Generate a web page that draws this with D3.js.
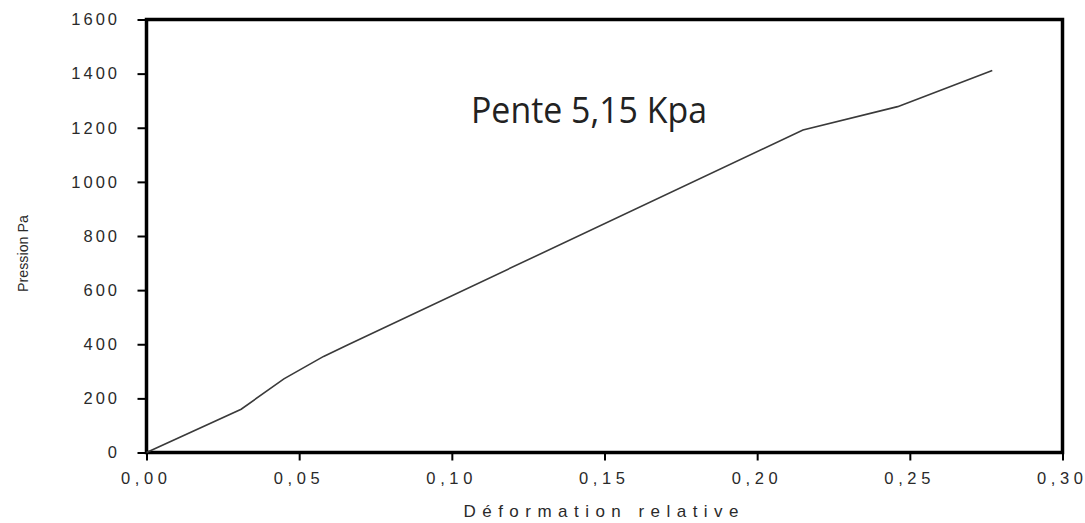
<!DOCTYPE html>
<html>
<head>
<meta charset="utf-8">
<script src="https://cdn.jsdelivr.net/npm/d3@7"></script>
<style>
  html, body { margin: 0; padding: 0; background: #fff; }
  svg { display: block; }
</style>
</head>
<body>
<svg id="chart" width="1085" height="523"></svg>
<script>
// Data
const strain   = [0, 0.031, 0.045, 0.058, 0.066, 0.215, 0.246, 0.277];
const pressure = [0, 160, 272, 355, 398, 1192, 1278, 1412];
const xTicks = [0, 0.05, 0.10, 0.15, 0.20, 0.25, 0.30];
const yTicks = [0, 200, 400, 600, 800, 1000, 1200, 1400, 1600];
const xTitle = "Déformation relative";
const yTitle = "Pression Pa";
const note = "Pente 5,15 Kpa";

const W = 1085, H = 523;
const m = { left: 146.5, right: 22.5, top: 19.5, bottom: 70.5 };
const svg = d3.select("#chart");

const x = d3.scaleLinear().domain([0, 0.30]).range([m.left, W - m.right]);
const y = d3.scaleLinear().domain([0, 1600]).range([H - m.bottom, m.top]);

const fmt = d => d.toFixed(2).replace(".", ",");
const tickFont = "'Liberation Sans', Arial, sans-serif";

// X axis
const gx = svg.append("g")
  .attr("transform", `translate(0,${H - m.bottom})`)
  .call(d3.axisBottom(x).tickValues(xTicks).tickFormat(fmt).tickSize(8).tickPadding(12));
gx.select(".domain").remove();
gx.selectAll(".tick line").attr("stroke", "#000").attr("stroke-width", 2);
gx.selectAll(".tick text")
  .attr("font-family", tickFont)
  .attr("font-size", 16.5).attr("fill", "#2a2a2a")
  .attr("x", -3)
  .attr("textLength", 46).attr("lengthAdjust", "spacing");

// Y axis
const gy = svg.append("g")
  .attr("transform", `translate(${m.left},0)`)
  .call(d3.axisLeft(y).tickValues(yTicks).tickFormat(d3.format("d")).tickSize(9).tickPadding(20));
gy.select(".domain").remove();
gy.selectAll(".tick line").attr("stroke", "#000").attr("stroke-width", 2);
gy.selectAll(".tick text")
  .attr("font-family", tickFont)
  .attr("font-size", 16.5).attr("fill", "#2a2a2a")
  .attr("text-anchor", "end")
  .attr("x", -26.5)
  .style("letter-spacing", "3px");

// Frame
svg.append("rect")
  .attr("x", m.left).attr("y", m.top)
  .attr("width", W - m.right - m.left).attr("height", H - m.bottom - m.top)
  .attr("fill", "none").attr("stroke", "#000").attr("stroke-width", 3.5);

// Line
const pts = strain.map((s, i) => [s, pressure[i]]);
svg.append("path")
  .datum(pts)
  .attr("fill", "none")
  .attr("stroke", "#3a3a3a")
  .attr("stroke-width", 1.6)
  .attr("d", d3.line().x(d => x(d[0])).y(d => y(d[1])));

// Axis titles
svg.append("text")
  .attr("x", 601).attr("y", 517)
  .attr("font-family", tickFont)
  .attr("font-size", 17).attr("fill", "#2a2a2a")
  .attr("text-anchor", "middle")
  .attr("textLength", 275).attr("lengthAdjust", "spacing")
  .text(xTitle);

svg.append("text")
  .attr("transform", "translate(28,253.5) rotate(-90)")
  .attr("text-anchor", "middle")
  .attr("font-family", tickFont)
  .attr("font-size", 15.5).attr("fill", "#2a2a2a")
  .attr("textLength", 77).attr("lengthAdjust", "spacingAndGlyphs")
  .text(yTitle);

// Annotation
svg.append("text")
  .attr("x", 471).attr("y", 123)
  .attr("font-family", "'Open Sans', 'Noto Sans', sans-serif")
  .attr("font-size", 36).attr("fill", "#222")
  .attr("textLength", 236).attr("lengthAdjust", "spacingAndGlyphs")
  .text(note);
</script>
</body>
</html>
